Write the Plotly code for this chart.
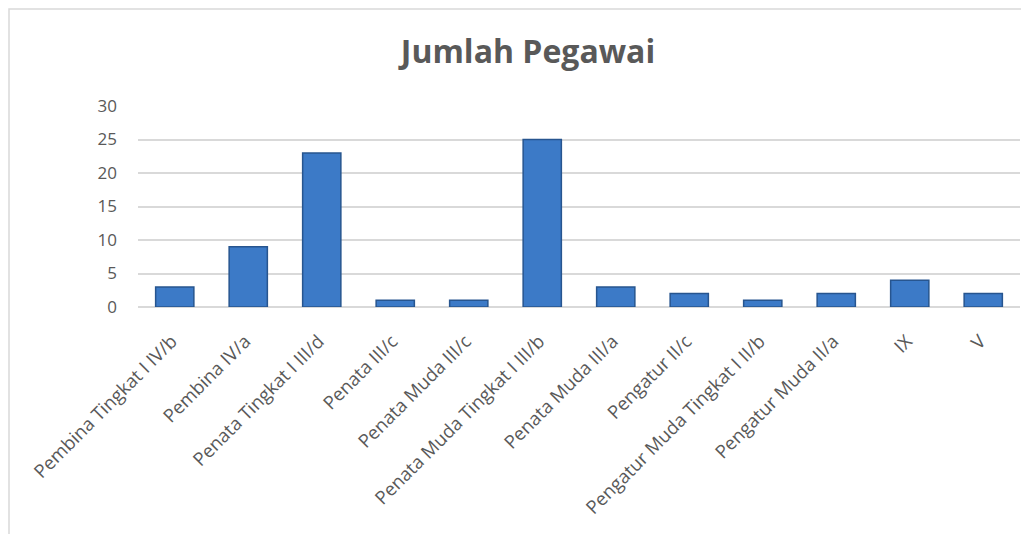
import plotly.graph_objects as go

categories = [
    "Pembina Tingkat I IV/b", "Pembina IV/a", "Penata Tingkat I III/d",
    "Penata III/c", "Penata Muda III/c", "Penata Muda Tingkat I III/b",
    "Penata Muda III/a", "Pengatur II/c", "Pengatur Muda Tingkat I II/b",
    "Pengatur Muda II/a", "IX", "V",
]
values = [3, 9, 23, 1, 1, 25, 3, 2, 1, 2, 4, 2]
y_ticks = [0, 5, 10, 15, 20, 25, 30]

OFF = 8  # page body margin
W, H = 1029 - OFF, 534 - OFF
L, R, T, B = 138 - OFF, 9, 106 - OFF, 227
pw, ph = W - L - R, H - T - B

fig = go.Figure()
fig.add_trace(go.Bar(
    x=categories, y=values, width=0.52,
    marker=dict(color="#3C7AC7", line=dict(color="#27558F", width=1.5)),
    hoverinfo="x+y",
))

fig.update_layout(
    width=W, height=H,
    margin=dict(l=L, r=R, t=T, b=B),
    paper_bgcolor="white", plot_bgcolor="white",
    showlegend=False,
    title=dict(text="<b>Jumlah Pegawai</b>", x=(528 - OFF) / W, xanchor="center",
               y=1 - (52 - OFF) / H, yanchor="middle",
               font=dict(family="Open Sans", size=32, color="#595959")),
    font=dict(family="Open Sans", color="#595959"),
    bargap=0.48,
)
fig.update_xaxes(
    tickangle=-45, tickfont=dict(size=18.5, color="#595959"),
    showline=False, showgrid=False, ticks="",
    ticklabelshift=-3, ticklabelstandoff=19,
)
fig.update_yaxes(
    range=[0, 30], tickvals=y_ticks, tickfont=dict(size=17, color="#595959"),
    showgrid=True, gridcolor="#D9D9D9", gridwidth=1.5,
    zeroline=True, zerolinecolor="#D9D9D9", zerolinewidth=1.5,
    showline=False, ticks="", ticklabelstandoff=20,
)
fig.add_shape(
    type="rect", xref="paper", yref="paper",
    x0=(9 - 138) / pw, x1=(1029 + 20 - 138) / pw,
    y0=(307 - (534 + 20)) / ph, y1=(307 - 9) / ph,
    line=dict(color="#D9D9D9", width=1.5), fillcolor="rgba(0,0,0,0)",
    layer="below",
)
fig.write_html("out.html")
